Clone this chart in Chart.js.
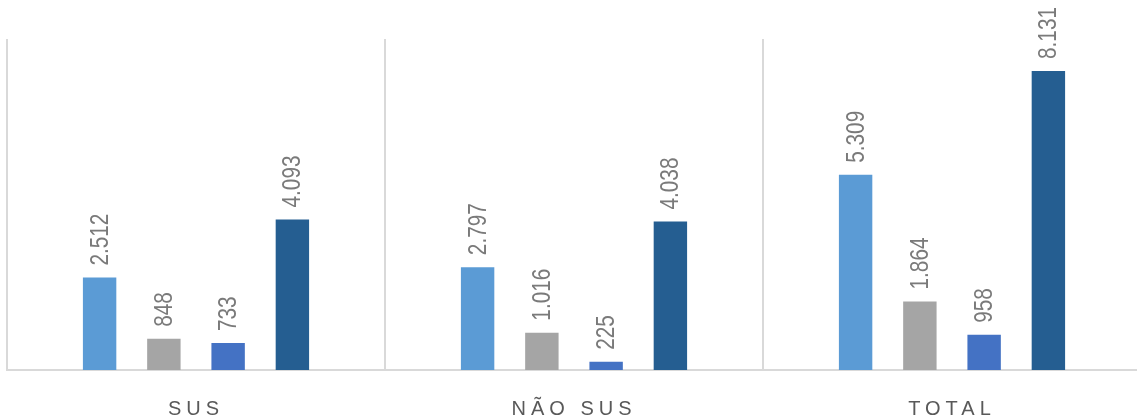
<!DOCTYPE html>
<html>
<head>
<meta charset="utf-8">
<script src="https://cdn.jsdelivr.net/npm/chart.js@4"></script>
<style>
  html, body { margin: 0; padding: 0; background: #fff; overflow: hidden; }
  #wrap { width: 1141px; height: 419px; }
</style>
</head>
<body>
<div id="wrap"><canvas id="grafico"></canvas></div>
<script>
// ==============================
// DADOS
// ==============================
const categorias = ["SUS", "NÃO SUS", "TOTAL"];
const serie1 = [2512, 2797, 5309];
const serie2 = [848, 1016, 1864];
const serie3 = [733, 225, 958];
const serie4 = [4093, 4038, 8131];

const cores = ["#5B9BD5", "#A5A5A5", "#4472C4", "#255E91"];

// formato pt-BR: 2.512
function formatar(v) {
    return v.toLocaleString("pt-BR");
}

// letter spacing só nos rótulos do eixo
const espacamento = {
    id: "espacamento",
    beforeDraw(chart) {
        chart.ctx.letterSpacing = "5px";
    },
    beforeDatasetsDraw(chart) {
        chart.ctx.letterSpacing = "0px";
    }
};

// rótulos verticais acima das barras (fonte estreita)
const rotulos = {
    id: "rotulos",
    afterDatasetsDraw(chart) {
        const ctx = chart.ctx;
        ctx.save();
        ctx.letterSpacing = "0px";
        ctx.font = "25px 'Liberation Sans', Arial, sans-serif";
        ctx.fillStyle = "#7a7a7a";
        ctx.textAlign = "left";
        ctx.textBaseline = "middle";
        chart.data.datasets.forEach((ds, i) => {
            chart.getDatasetMeta(i).data.forEach((bar, j) => {
                ctx.save();
                ctx.translate(bar.x + 1, bar.y - 12);
                ctx.rotate(-Math.PI / 2);
                ctx.scale(0.83, 1);
                ctx.fillText(formatar(ds.data[j]), 0, 0);
                ctx.restore();
            });
        });
        ctx.restore();
    }
};

const series = [serie1, serie2, serie3, serie4];

new Chart(document.getElementById("grafico"), {
    type: "bar",
    data: {
        labels: categorias,
        datasets: series.map((s, i) => ({
            label: "Série " + (i + 1),
            data: s,
            backgroundColor: cores[i],
            categoryPercentage: 0.68,
            barPercentage: 0.52
        }))
    },
    options: {
        responsive: true,
        maintainAspectRatio: false,
        animation: false,
        layout: {
            padding: { left: 7, right: 0, top: 39, bottom: 0 }
        },
        plugins: {
            legend: { display: false },
            tooltip: { enabled: false }
        },
        scales: {
            x: {
                afterFit(scale) { scale.height = 49; },
                grid: {
                    color: "#d9d9d9",
                    lineWidth: 2,
                    drawTicks: false,
                    offset: true
                },
                border: { color: "#d9d9d9", width: 2 },
                ticks: {
                    color: "#595959",
                    padding: 27,
                    font: { family: "'Liberation Sans', Arial, sans-serif", size: 20 }
                }
            },
            y: {
                display: false,
                min: 0,
                max: 9000
            }
        }
    },
    plugins: [espacamento, rotulos]
});
</script>
</body>
</html>
